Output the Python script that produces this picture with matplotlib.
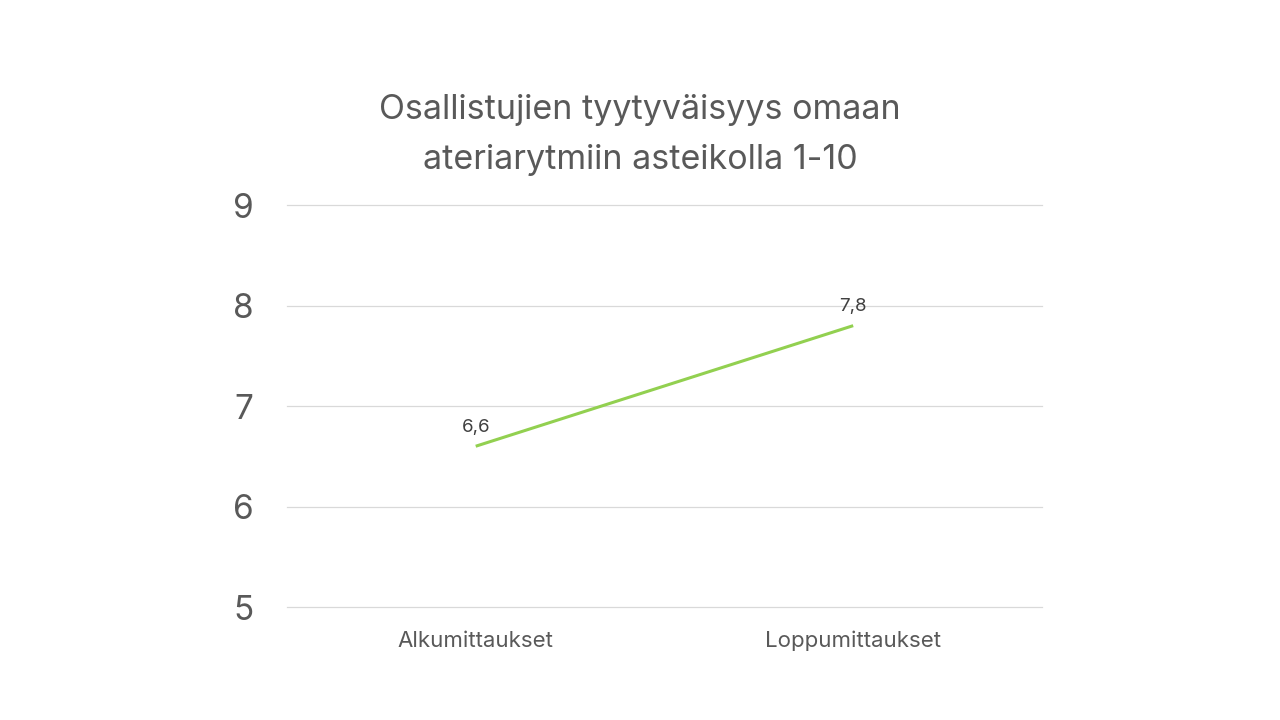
import matplotlib.pyplot as plt

plt.rcParams['font.family'] = ['Inter', 'DejaVu Sans']

# data
categories = ['Alkumittaukset', 'Loppumittaukset']
values = [6.6, 7.8]
value_labels = ['6,6', '7,8']
title = 'Osallistujien tyytyväisyys omaan\nateriarytmiin asteikolla 1-10'

text_col = '#595959'
line_col = '#92D050'

fig = plt.figure(figsize=(12.8, 7.2), dpi=100)
ax = fig.add_axes([0.2242, 0.1569, 0.5898, 0.5583])

x = list(range(len(categories)))
ax.plot(x, values, color=line_col, linewidth=2.2, solid_capstyle='butt')

for xi, v, lab in zip(x, values, value_labels):
    ax.annotate(lab, (xi, v), xytext=(0, 7.5), textcoords='offset points',
                ha='center', va='bottom', fontsize=13.5, color='#404040')

ax.set_xlim(-0.5, 1.5)
ax.set_ylim(5, 9)
ax.set_yticks([5, 6, 7, 8, 9])
ax.set_xticks(x)
ax.set_xticklabels(categories, fontsize=16, color=text_col)
ax.tick_params(axis='y', labelsize=24, colors=text_col, length=0, pad=24)
ax.tick_params(axis='x', length=0, pad=17)
ax.grid(axis='y', color='#D9D9D9', linewidth=0.9)
for gl in ax.get_ygridlines():
    gl.set_clip_on(False)
ax.set_axisbelow(True)
for s in ax.spines.values():
    s.set_visible(False)

fig.text(0.5, 0.756, title, ha='center', va='bottom', fontsize=24.5,
         color=text_col, linespacing=1.72)

fig.savefig('out.png', dpi=100)
